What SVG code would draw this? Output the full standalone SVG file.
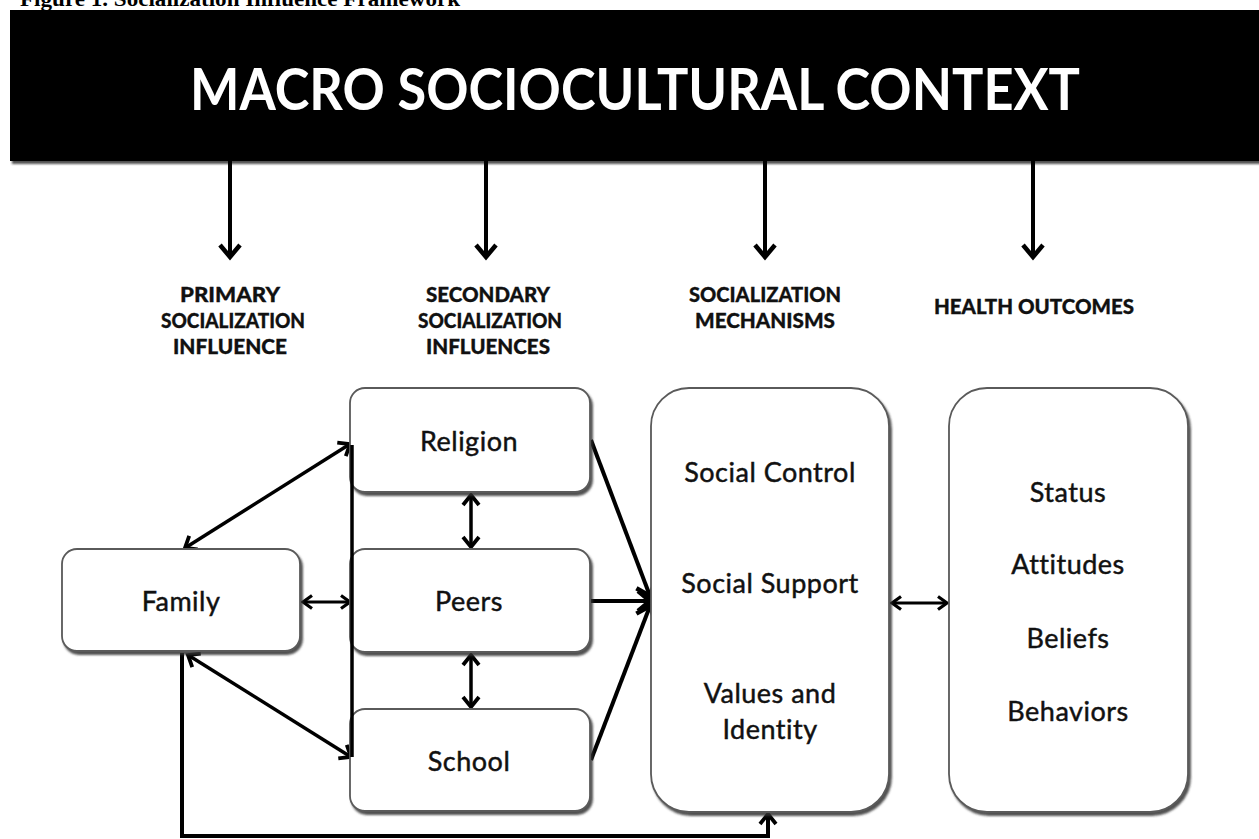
<svg xmlns="http://www.w3.org/2000/svg" width="1259" height="839" viewBox="0 0 1259 839">
  <style>
    .caption { font-family: "Liberation Serif", serif; font-weight: 700; font-size: 20px; fill: #000; }
    .title { font-family: "Lato", "Open Sans", sans-serif; font-weight: 700; font-size: 57px; fill: #fff; text-anchor: middle; }
    .head { font-family: "Lato", "Open Sans", sans-serif; font-weight: 900; font-size: 20px; fill: #111; stroke: #111; stroke-width: 0.3; text-anchor: middle; }
    .lbl { font-family: "Lato", "Open Sans", sans-serif; font-weight: 400; font-size: 27px; letter-spacing: 0.5px; fill: #111; stroke: #111; stroke-width: 0.45; text-anchor: middle; }
    .box { fill: #fff; stroke: #5a5a5a; stroke-width: 1.8; filter: url(#shadow); }
    .conn { fill: none; stroke: #000; stroke-linecap: butt; }
    .thick { stroke-width: 4; }
    .mid { stroke-width: 3.5; }
    .thin { stroke-width: 3; }
  </style>
  <defs>
    <filter id="shadow" x="-10%" y="-10%" width="125%" height="125%">
      <feDropShadow dx="2" dy="3" stdDeviation="1" flood-color="#333" flood-opacity="0.85"/>
    </filter>
    <!-- open chevron heads, pointing along +x -->
    <marker id="ah" markerUnits="userSpaceOnUse" viewBox="-16 -14 20 28" markerWidth="20" markerHeight="28" refX="0" refY="0" orient="auto-start-reverse">
      <path d="M-12,-10 L0,0 L-12,10" fill="none" stroke="#000" stroke-width="4.5"/>
    </marker>
    <marker id="am" markerUnits="userSpaceOnUse" viewBox="-14 -12 18 24" markerWidth="18" markerHeight="24" refX="0" refY="0" orient="auto-start-reverse">
      <path d="M-10,-8 L0,0 L-10,8" fill="none" stroke="#000" stroke-width="3.8"/>
    </marker>
    <marker id="as" markerUnits="userSpaceOnUse" viewBox="-12 -10 16 20" markerWidth="16" markerHeight="20" refX="0" refY="0" orient="auto-start-reverse">
      <path d="M-9,-6.5 L0,0 L-9,6.5" fill="none" stroke="#000" stroke-width="3.2"/>
    </marker>
  </defs>

  <rect width="1259" height="839" fill="#fff"/>

  <!-- figure caption, running off the top edge -->
  <text class="caption" x="20" y="6" textLength="440" lengthAdjust="spacingAndGlyphs">Figure 1. Socialization Influence Framework</text>

  <!-- context banner -->
  <g id="macro">
    <rect x="10" y="10" width="1249" height="151" fill="#000" filter="url(#shadow)"/>
    <text class="title" x="635" y="110" textLength="890" lengthAdjust="spacingAndGlyphs">MACRO SOCIOCULTURAL CONTEXT</text>
  </g>

  <!-- column headings -->
  <g id="head-primary">
    <text class="head" x="230" y="302" textLength="100" lengthAdjust="spacingAndGlyphs">PRIMARY</text>
    <text class="head" x="233" y="328" textLength="144" lengthAdjust="spacingAndGlyphs">SOCIALIZATION</text>
    <text class="head" x="230" y="354" textLength="114" lengthAdjust="spacingAndGlyphs">INFLUENCE</text>
  </g>
  <g id="head-secondary">
    <text class="head" x="488" y="302" textLength="124" lengthAdjust="spacingAndGlyphs">SECONDARY</text>
    <text class="head" x="490" y="328" textLength="144" lengthAdjust="spacingAndGlyphs">SOCIALIZATION</text>
    <text class="head" x="488" y="354" textLength="124" lengthAdjust="spacingAndGlyphs">INFLUENCES</text>
  </g>
  <g id="head-mechanisms">
    <text class="head" x="765" y="302" textLength="152" lengthAdjust="spacingAndGlyphs">SOCIALIZATION</text>
    <text class="head" x="765" y="328" textLength="140" lengthAdjust="spacingAndGlyphs">MECHANISMS</text>
  </g>
  <g id="head-outcomes">
    <text class="head" x="1034" y="314" textLength="200" lengthAdjust="spacingAndGlyphs">HEALTH OUTCOMES</text>
  </g>

  <!-- connectors -->
  <g id="connectors">
    <!-- banner down to each column -->
    <line class="conn thick" x1="230" y1="161" x2="230" y2="257" marker-end="url(#ah)"/>
    <line class="conn thick" x1="486" y1="161" x2="486" y2="257" marker-end="url(#ah)"/>
    <line class="conn thick" x1="765" y1="161" x2="765" y2="257" marker-end="url(#ah)"/>
    <line class="conn thick" x1="1033" y1="161" x2="1033" y2="257" marker-end="url(#ah)"/>

    <!-- family to secondary influences -->
    <line class="conn mid" x1="185" y1="548" x2="350" y2="444" marker-start="url(#am)" marker-end="url(#am)"/>
    <line class="conn mid" x1="188" y1="655" x2="351" y2="757" marker-start="url(#am)" marker-end="url(#am)"/>
    <line class="conn thin" x1="303" y1="602" x2="350" y2="602" marker-start="url(#as)" marker-end="url(#as)"/>

    <!-- between secondary influences -->
    <line class="conn mid" x1="471" y1="495" x2="471" y2="547" marker-start="url(#am)" marker-end="url(#am)"/>
    <line class="conn mid" x1="471" y1="655" x2="471" y2="707" marker-start="url(#am)" marker-end="url(#am)"/>

    <!-- secondary influences into mechanisms -->
    <line class="conn thick" x1="591" y1="440" x2="650" y2="596" marker-end="url(#ah)"/>
    <line class="conn thick" x1="591" y1="601" x2="650" y2="601" marker-end="url(#ah)"/>
    <line class="conn thick" x1="591" y1="760" x2="650" y2="606" marker-end="url(#ah)"/>

    <!-- mechanisms with outcomes -->
    <line class="conn thin" x1="892" y1="603" x2="947" y2="603" marker-start="url(#as)" marker-end="url(#as)"/>

    <!-- family feedback loop -->
    <polyline class="conn" stroke-width="4" points="182,653 182,836 768,836"/>
    <line class="conn thick" x1="768" y1="838" x2="768" y2="814" marker-end="url(#am)"/>
  </g>

  <!-- nodes -->
  <g id="family">
    <rect class="box" x="62" y="549" width="238" height="102" rx="15"/>
    <text class="lbl" x="181" y="611">Family</text>
  </g>
  <g id="religion">
    <rect class="box" x="350" y="388" width="240" height="104" rx="15"/>
    <text class="lbl" x="469" y="451">Religion</text>
  </g>
  <g id="peers">
    <rect class="box" x="350" y="549" width="240" height="103" rx="15"/>
    <text class="lbl" x="469" y="611">Peers</text>
  </g>
  <g id="school">
    <rect class="box" x="350" y="709" width="240" height="102" rx="15"/>
    <text class="lbl" x="469" y="771">School</text>
  </g>
  <g id="mechanisms">
    <rect class="box" x="651" y="388" width="238" height="424" rx="38"/>
    <text class="lbl" x="770" y="482">Social Control</text>
    <text class="lbl" x="770" y="593">Social Support</text>
    <text class="lbl" x="770" y="703">Values and</text>
    <text class="lbl" x="770" y="739">Identity</text>
  </g>
  <g id="outcomes">
    <rect class="box" x="949" y="388" width="239" height="424" rx="38"/>
    <text class="lbl" x="1068" y="502">Status</text>
    <text class="lbl" x="1068" y="574">Attitudes</text>
    <text class="lbl" x="1068" y="648">Beliefs</text>
    <text class="lbl" x="1068" y="721">Behaviors</text>
  </g>

  <!-- left rail joining the family arrows, drawn over the box edges -->
  <g id="rail">
    <line class="conn mid" x1="352" y1="445" x2="352" y2="757"/>
  </g>
</svg>
